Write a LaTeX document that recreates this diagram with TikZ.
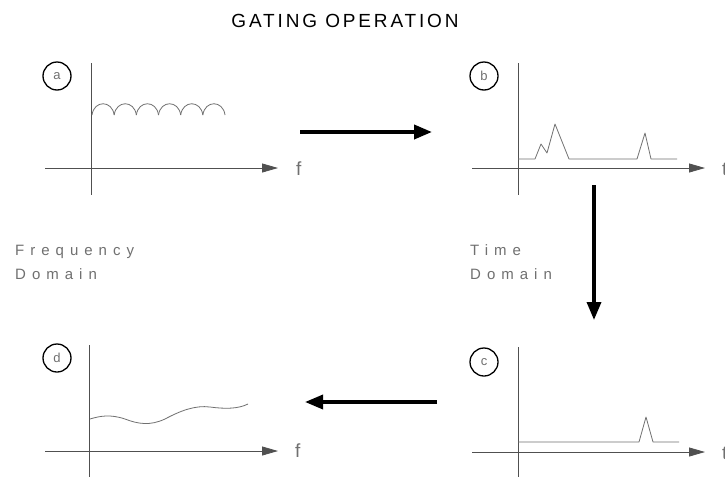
\documentclass[tikz,border=0pt]{standalone}
\usepackage{fontspec}
\setmainfont{Liberation Sans}
\usetikzlibrary{arrows.meta}
\newfontfamily\titlefont[LetterSpace=15]{Liberation Sans}
\newfontfamily\labfont[LetterSpace=40]{Liberation Sans}
\definecolor{axisgray}{HTML}{505050}
\definecolor{txtgray}{HTML}{707070}
\tikzset{
  tag/.style={circle,draw=black,line width=1.3pt,minimum size=28pt,inner sep=0pt,
    text=txtgray,font=\fontsize{13}{13}\selectfont},
  axis/.style={draw=axisgray,line width=0.8pt},
  axarrow/.style={axis,-{Triangle[length=16pt,width=9pt]}},
  sig/.style={draw=txtgray,line width=0.8pt,line join=round},
  bigarrow/.style={draw=black,line width=3.8pt,-{Triangle[length=18pt,width=14pt]}},
  varlab/.style={text=txtgray,font=\fontsize{19}{19}\selectfont,inner sep=0pt,anchor=base west},
  domlab/.style={text=txtgray,font=\fontsize{15}{15}\selectfont\labfont,inner sep=0pt,anchor=base west}
}
\begin{document}
\begin{tikzpicture}[x=1pt,y=-1pt]
\path[use as bounding box,fill=white] (0,0) rectangle (725,477);
% title
\node[inner sep=0pt,anchor=base,font=\fontsize{19}{19}\selectfont\titlefont] (title) at (345,27) {GATING OPERATION};
% ---------- panel a
\node[tag] (ta) at (57,76) {a};
\draw[axis] (91,63) -- (91,195);
\draw[axarrow] (45,168) -- (278,168);
\node[varlab] (fa) at (296,175) {f};
\foreach \i in {0,...,5}{
  \pgfmathsetmacro{\xo}{92+\i*22.17}
  \draw[sig] (\xo,115) .. controls (\xo+2,100) and (\xo+20.17,100) .. (\xo+22.17,115);
}
% ---------- panel b
\node[tag] (tb) at (484,76) {b};
\draw[axis] (518,63) -- (518,195);
\draw[axarrow] (472,168) -- (705,168);
\node[varlab] (fb) at (722,175) {t};
\draw[sig] (518,159) -- (535,159) -- (541,144) -- (547,153) -- (555,124) -- (569,159)
  -- (637,159) -- (645,133) -- (651,159) -- (677,159);
% ---------- panel c
\node[tag] (tc) at (484,362) {c};
\draw[axis] (518,347) -- (518,477);
\draw[axarrow] (472,452) -- (705,452);
\node[varlab] (fc) at (722,459) {t};
\draw[sig] (518,442) -- (639,442) -- (646,417) -- (653,442) -- (679,442);
% ---------- panel d
\node[tag] (td) at (57,358) {d};
\draw[axis] (89,345) -- (89,477);
\draw[axarrow] (45,451) -- (278,451);
\node[varlab] (fd) at (295,457) {f};
\draw[sig] (90,419) .. controls (100,416) and (110,414) .. (125,419)
  .. controls (138,424) and (150,426) .. (165,419)
  .. controls (180,411) and (195,405) .. (210,407)
  .. controls (225,409) and (238,409) .. (248,404);
% ---------- domain labels
\node[domlab] (fr1) at (15,255) {Frequency};
\node[domlab] (fr2) at (15,279) {Domain};
\node[domlab] (ti1) at (470,255) {Time};
\node[domlab] (ti2) at (470,279) {Domain};
% ---------- arrows between panels
\coordinate (ab1) at (300,132);
\coordinate (ab2) at (432,132);
\coordinate (bc1) at (594,185);
\coordinate (bc2) at (594,320);
\coordinate (cd1) at (437,402);
\coordinate (cd2) at (305,402);
\draw[bigarrow] (ab1) -- (ab2);
\draw[bigarrow,line width=3.4pt] (bc1) -- (bc2);
\draw[bigarrow,line width=3.4pt] (cd1) -- (cd2);
\end{tikzpicture}
\end{document}
